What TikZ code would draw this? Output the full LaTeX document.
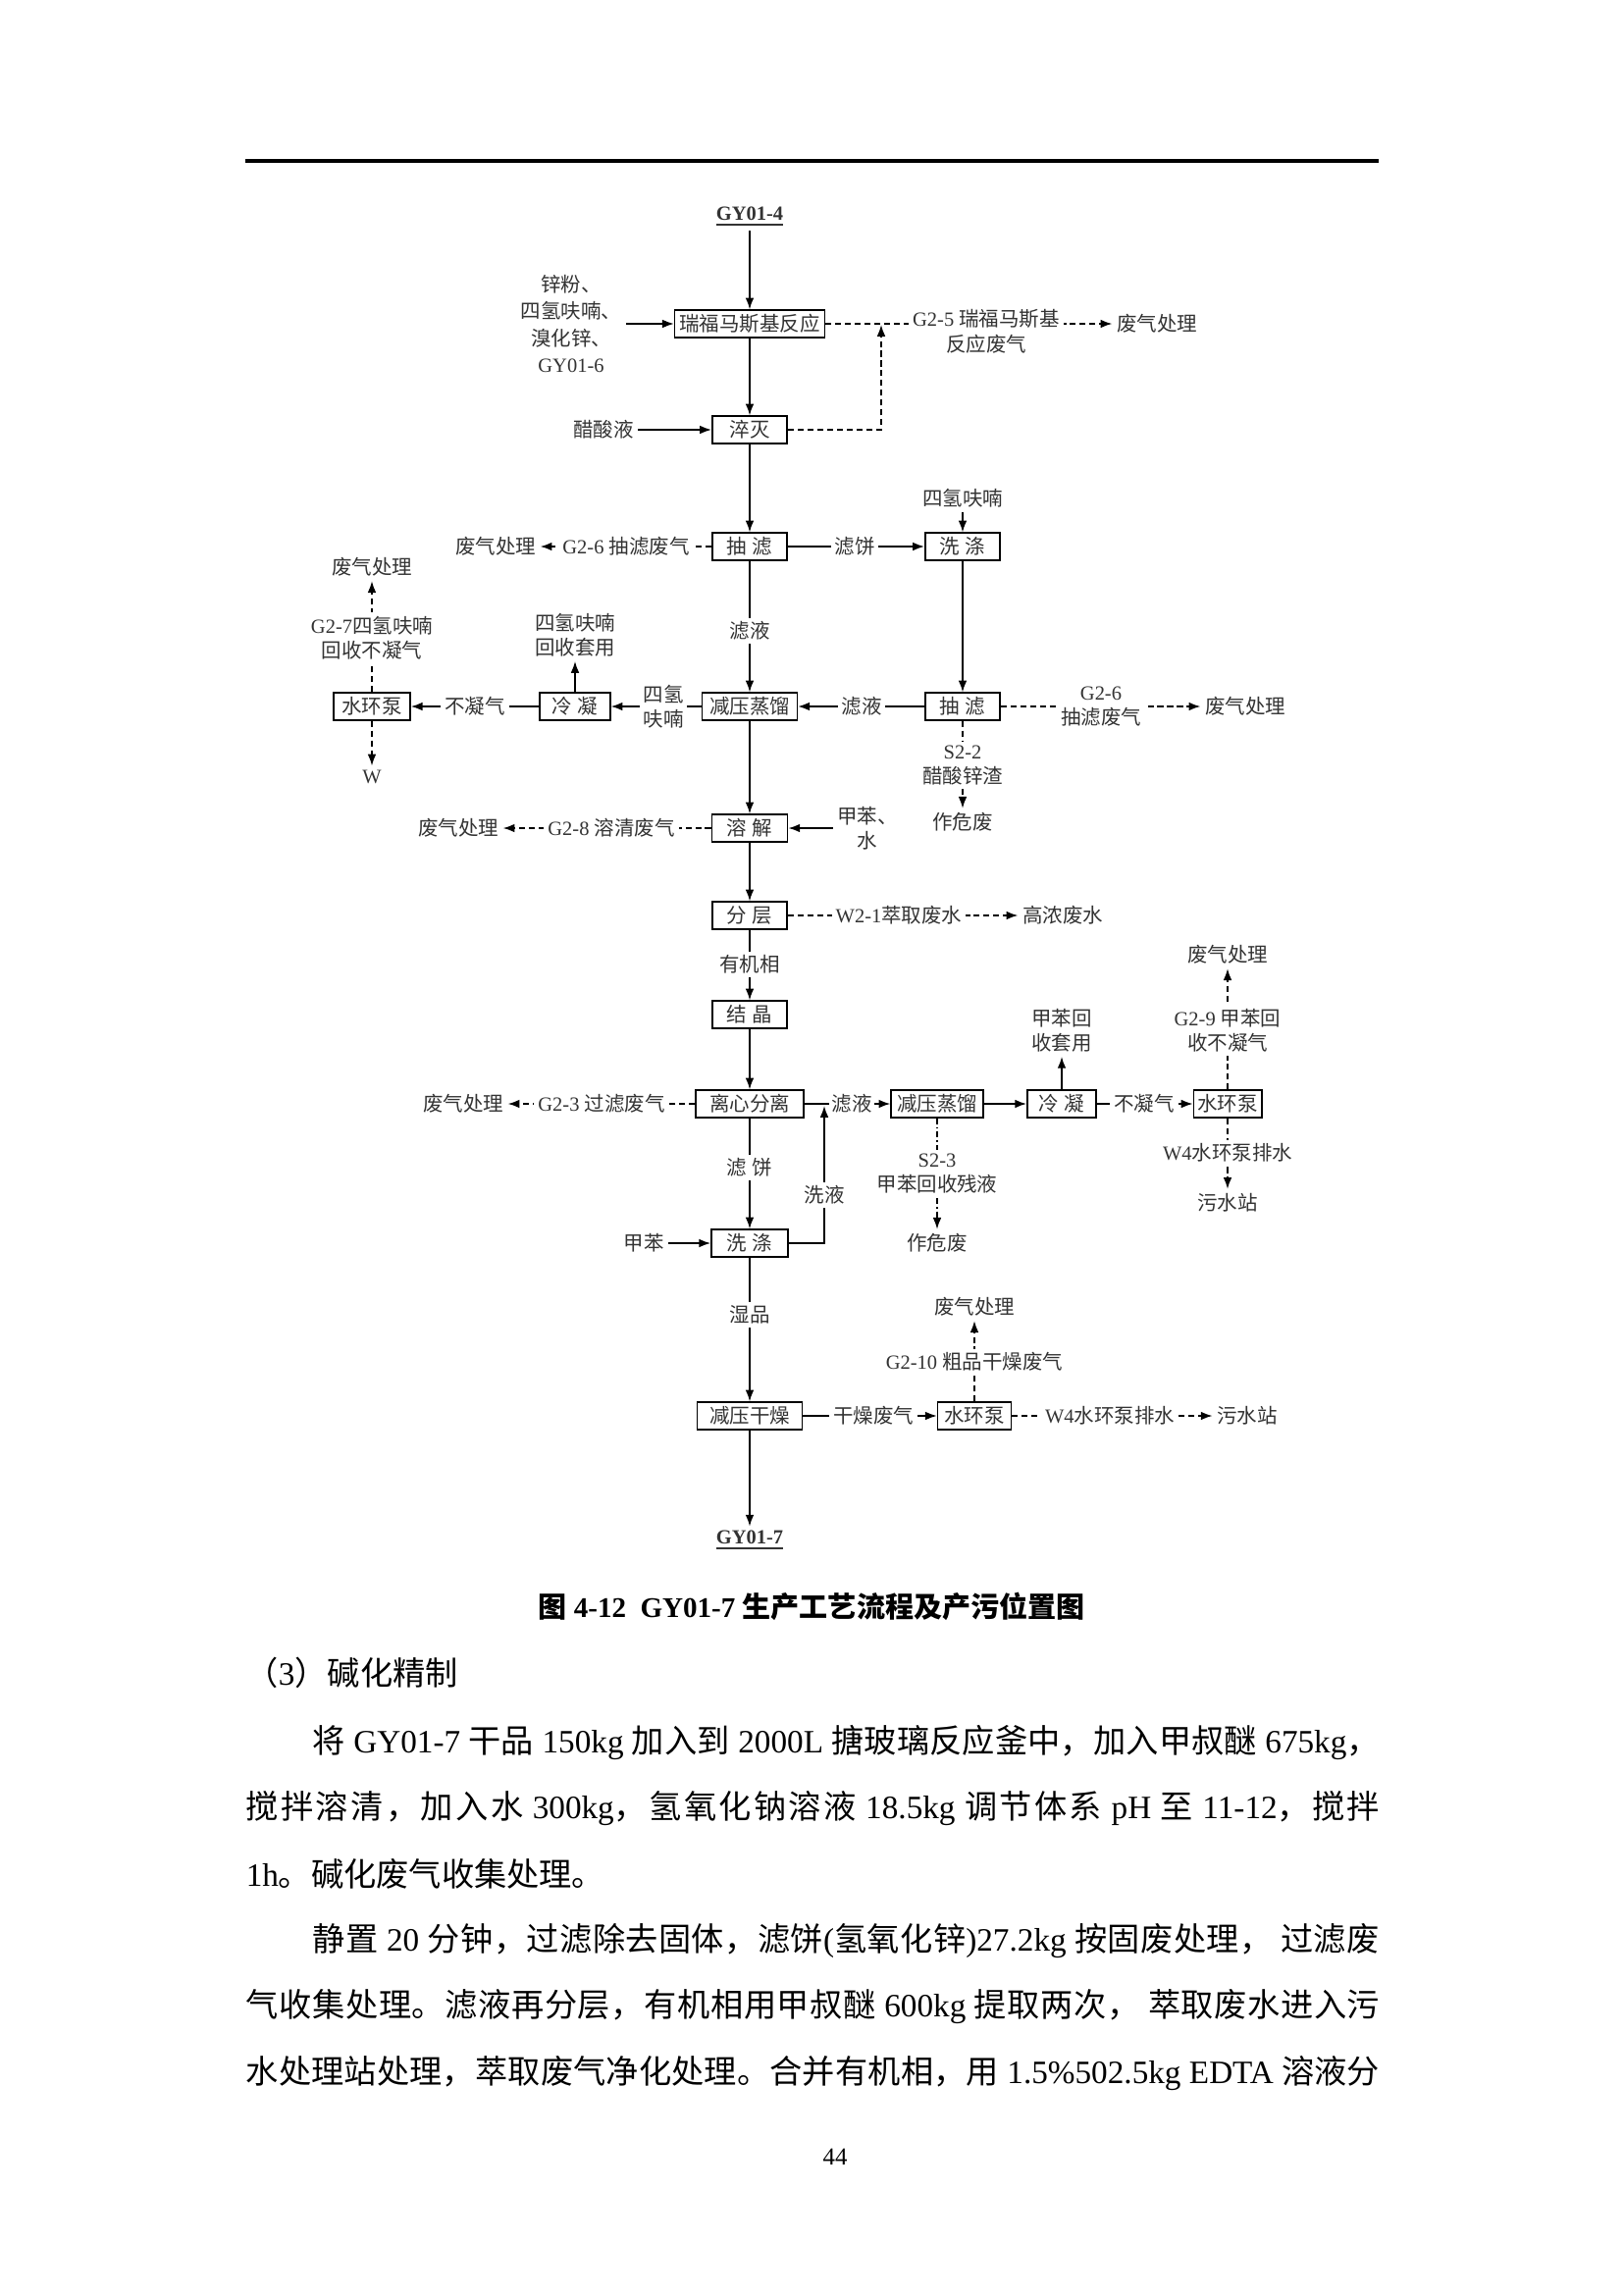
\documentclass[tikz,border=0pt]{standalone}
\usepackage{fontspec}
\setmainfont{Liberation Serif}
\newfontfamily\zhfont{Noto Sans CJK SC}
\usetikzlibrary{arrows.meta,backgrounds,positioning,calc}

% switch to the CJK font for Chinese characters
\XeTeXinterchartokenstate=1
\newXeTeXintercharclass\zhclass
\newcount\zhcnt
\def\zhrange#1#2{\zhcnt=#1\relax
  \loop\ifnum\zhcnt<#2\relax \XeTeXcharclass\zhcnt=\zhclass \advance\zhcnt by 1 \repeat}
\zhrange{"3000}{"3040}
\zhrange{"4E00}{"A000}
\zhrange{"FF00}{"FFF0}
\XeTeXinterchartoks 0 \zhclass = {\zhfont}
\XeTeXinterchartoks 4095 \zhclass = {\zhfont}
\XeTeXinterchartoks \zhclass 0 = {\rmfamily}
\XeTeXinterchartoks \zhclass 4095 = {\rmfamily}
\XeTeXinterchartoks \zhclass \zhclass = {\hskip0pt plus 0.25em\relax}

\tikzset{every picture/.style={line width=0.55pt}}

\begin{document}
\begin{tikzpicture}[x=0.12697mm, y=-0.12697mm, font=\fontsize{7.4pt}{9.2pt}\selectfont,
    proc/.style={draw, line width=0.6pt, minimum width=#1, minimum height=3.5mm, inner sep=0.4mm, text=black!80},
    proc/.default=9.7mm,
    lbl/.style={fill=white, inner sep=0.5mm, align=center, text=black!80},
    txt/.style={inner sep=0.5mm, align=center, text=black!80},
    flow/.style={-{Latex[length=1.5mm,width=1.1mm]}, line width=0.55pt},
    gas/.style={flow, dash pattern=on 2.2pt off 1.4pt},
    slag/.style={flow, dash pattern=on 2.2pt off 1.1pt on 0.5pt off 1.1pt},
    body/.style={anchor=west, inner sep=0pt, font=\fontsize{12pt}{14pt}\selectfont}]
    \useasboundingbox (0,0) rectangle (1654,2339);
    \draw[line width=1.2pt] (250,164) -- (1405,164);

    % reaction and quench
    \node[txt] (gy4) at (764,221) {\underline{\textbf{GY01-4}}};
    \node[proc=19.4mm] (rfms) at (764,330) {瑞福马斯基反应};
    \node[txt, font=\fontsize{7.4pt}{9.8pt}\selectfont] (feed1) at (582,330) {锌粉、\\四氢呋喃、\\溴化锌、\\GY01-6};
    \node[lbl] (g5) at (1005,338) {G2-5 瑞福马斯基\\反应废气};
    \node[txt] (fq1) at (1179,330) {废气处理};
    \node[txt] (acid) at (615,438) {醋酸液};
    \node[proc] (cuimie) at (764,438) {淬灭};
    \coordinate (g5j) at (898,331);

    % filtration and washing
    \node[proc] (cl1) at (764,557) {抽 滤};
    \node[lbl] (g6a) at (638,557) {G2-6 抽滤废气};
    \node[txt] (fq2) at (505,557) {废气处理};
    \node[lbl] (cake1) at (871,557) {滤饼};
    \node[proc] (xd1) at (981,557) {洗 涤};
    \node[txt] (thf1) at (981,508) {四氢呋喃};
    \node[proc] (cl2) at (981,720) {抽 滤};
    \node[lbl] (g6b) at (1122,720) {G2-6\\抽滤废气};
    \node[txt] (fq3) at (1269,720) {废气处理};
    \node[lbl] (s22) at (981,780) {S2-2\\醋酸锌渣};
    \node[txt] (hw1) at (981,838) {作危废};
    \node[lbl] (filt2) at (878,720) {滤液};

    % THF recovery
    \node[lbl] (filt1) at (764,643) {滤液};
    \node[proc=12.3mm] (zl1) at (764,720) {减压蒸馏};
    \node[lbl] (thf2) at (676,720) {四氢\\呋喃};
    \node[proc=9.1mm] (ln1) at (586,720) {冷 凝};
    \node[txt] (reuse1) at (586,647) {四氢呋喃\\回收套用};
    \node[lbl] (nc1) at (484,720) {不凝气};
    \node[proc=9.9mm] (pump1) at (379,720) {水环泵};
    \node[lbl] (g7) at (379,650) {G2-7四氢呋喃\\回收不凝气};
    \node[txt] (fq4) at (379,578) {废气处理};
    \node[txt] (w1) at (379,792) {W};

    % dissolving and layering
    \node[proc=9.8mm] (rj) at (764,844) {溶 解};
    \node[txt] (tol1) at (884,844) {甲苯、\\水};
    \node[lbl] (g8) at (623,844) {G2-8 溶清废气};
    \node[txt] (fq5) at (467,844) {废气处理};
    \node[proc] (fc) at (764,933) {分 层};
    \node[lbl] (w21) at (916,933) {W2-1萃取废水};
    \node[txt] (hcw) at (1083,933) {高浓废水};
    \node[lbl] (org) at (764,983) {有机相};
    \node[proc] (jj) at (764,1034) {结 晶};

    % centrifuge and toluene recovery
    \node[proc=14mm] (lx) at (764,1125) {离心分离};
    \node[lbl] (g3) at (613,1125) {G2-3 过滤废气};
    \node[txt] (fq6) at (472,1125) {废气处理};
    \node[lbl, inner xsep=0.3mm] (filt3) at (868,1125) {滤液};
    \node[proc=11.9mm] (zl2) at (955,1125) {减压蒸馏};
    \node[lbl] (s23) at (955,1196) {S2-3\\甲苯回收残液};
    \node[txt] (hw2) at (955,1267) {作危废};
    \node[proc=8.9mm] (ln2) at (1082,1125) {冷 凝};
    \node[txt] (reuse2) at (1082,1050) {甲苯回\\收套用};
    \node[lbl] (nc2) at (1166,1125) {不凝气};
    \node[proc=8.8mm] (pump2) at (1251,1125) {水环泵};
    \node[lbl] (g9) at (1251,1050) {G2-9 甲苯回\\收不凝气};
    \node[txt] (fq7) at (1251,973) {废气处理};
    \node[lbl] (w4a) at (1251,1175) {W4水环泵排水};
    \node[txt] (sew1) at (1251,1226) {污水站};
    \node[lbl] (cake2) at (764,1190) {滤 饼};
    \node[proc=9.9mm] (xd2) at (764,1267) {洗 涤};
    \node[txt] (tol2) at (656,1267) {甲苯};
    \node[lbl] (washliq) at (840,1218) {洗液};
    \coordinate (washj) at (840,1127);

    % drying
    \node[lbl] (wet) at (764,1340) {湿品};
    \node[proc=13.6mm] (gz) at (764,1443) {减压干燥};
    \node[lbl] (dry) at (890,1443) {干燥废气};
    \node[proc=9.5mm] (pump3) at (993,1443) {水环泵};
    \node[lbl] (g10) at (993,1388) {G2-10 粗品干燥废气};
    \node[txt] (fq8) at (993,1332) {废气处理};
    \node[lbl] (w4b) at (1131,1443) {W4水环泵排水};
    \node[txt] (sew2) at (1271,1443) {污水站};
    \node[txt] (gy7) at (764,1570) {\underline{\textbf{GY01-7}}};

    \begin{scope}[on background layer]
        \fill[white] (0,0) rectangle (1654,2339);
        \draw[flow] (gy4) -- (rfms);
        \draw[flow] (feed1) -- (rfms);
        \draw[gas] (rfms) -- (fq1);
        \draw[flow] (rfms) -- (cuimie);
        \draw[flow] (acid) -- (cuimie);
        \draw[gas] (cuimie.east) -| (g5j);
        \draw[flow] (cuimie) -- (cl1);
        \draw[gas] (cl1) -- (fq2);
        \draw[flow] (cl1) -- (xd1);
        \draw[flow] (thf1) -- (xd1);
        \draw[flow] (xd1) -- (cl2);
        \draw[gas] (cl2) -- (fq3);
        \draw[gas] (cl2) -- (hw1);
        \draw[flow] (cl2) -- (zl1);
        \draw[flow] (cl1) -- (zl1);
        \draw[flow] (zl1) -- (ln1);
        \draw[flow] (ln1) -- (reuse1);
        \draw[flow] (ln1) -- (pump1);
        \draw[gas] (pump1) -- (fq4);
        \draw[gas] (pump1) -- (w1);
        \draw[flow] (zl1) -- (rj);
        \draw[flow] (tol1) -- (rj);
        \draw[gas] (rj) -- (fq5);
        \draw[flow] (rj) -- (fc);
        \draw[gas] (fc) -- (hcw);
        \draw[flow] (fc) -- (jj);
        \draw[flow] (jj) -- (lx);
        \draw[gas] (lx) -- (fq6);
        \draw[flow] (lx) -- (zl2);
        \draw[slag] (zl2) -- (hw2);
        \draw[flow] (zl2) -- (ln2);
        \draw[flow] (ln2) -- (reuse2);
        \draw[flow] (ln2) -- (pump2);
        \draw[gas] (pump2) -- (fq7);
        \draw[gas] (pump2) -- (sew1);
        \draw[flow] (lx) -- (xd2);
        \draw[flow] (tol2) -- (xd2);
        \draw[flow] (xd2.east) -| (washj);
        \draw[flow] (xd2) -- (gz);
        \draw[flow] (gz) -- (pump3);
        \draw[gas] (pump3) -- (fq8);
        \draw[gas] (pump3) -- (sew2);
        \draw[flow] (gz) -- (gy7);
    \end{scope}

    % caption and text
    \node[font=\fontsize{10.5pt}{12pt}\selectfont\bfseries] (cap) at (827,1637) {图 4-12\ \ GY01-7 生产工艺流程及产污位置图};
    \node[body] (h3) at (250,1705) {（3）碱化精制};
    \node[body] (p1) at (318,1776) {\makebox[138mm][s]{将 GY01-7 干品 150kg 加入到 2000L 搪玻璃反应釜中，加入甲叔醚 675kg，}};
    \node[body] (p2) at (250,1843) {\makebox[146.7mm][s]{搅拌溶清，加入水 300kg，氢氧化钠溶液 18.5kg 调节体系 pH 至 11-12，搅拌}};
    \node[body] (p3) at (250,1910) {1h。碱化废气收集处理。};
    \node[body] (p4) at (318,1978) {\makebox[138mm][s]{静置 20 分钟，过滤除去固体，滤饼(氢氧化锌)27.2kg 按固废处理， 过滤废}};
    \node[body] (p5) at (250,2045) {\makebox[146.7mm][s]{气收集处理。滤液再分层，有机相用甲叔醚 600kg 提取两次， 萃取废水进入污}};
    \node[body] (p6) at (250,2113) {\makebox[146.7mm][s]{水处理站处理，萃取废气净化处理。合并有机相，用 1.5\%502.5kg EDTA 溶液分}};
    \node[font=\fontsize{9pt}{10pt}\selectfont] (pg) at (851,2198) {44};
\end{tikzpicture}
\end{document}
